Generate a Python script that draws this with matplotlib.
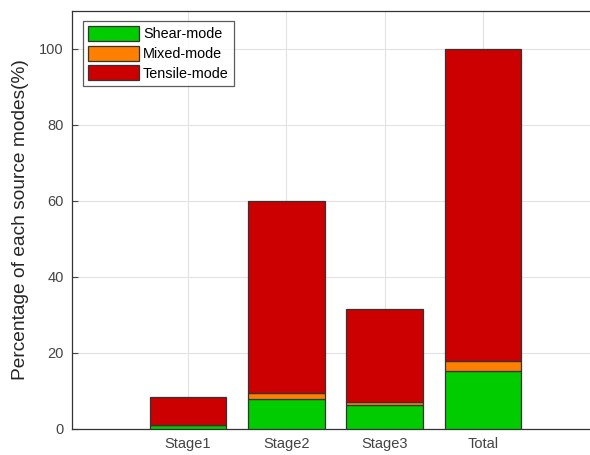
import matplotlib
matplotlib.use("Agg")
import matplotlib.pyplot as plt
import numpy as np

plt.rcParams['font.family'] = ['Liberation Sans', 'DejaVu Sans']

categories = ["Stage1", "Stage2", "Stage3", "Total"]
shear = [1.0, 7.9, 6.2, 15.3]
mixed = [0.1, 1.5, 1.0, 2.6]
tensile = [7.3, 50.6, 24.4, 82.1]
series_names = ["Shear-mode", "Mixed-mode", "Tensile-mode"]
colors = ["#00CC00", "#FF8000", "#CC0000"]

fig = plt.figure(figsize=(5.9, 4.55), dpi=100)
ax = fig.add_axes([72/590, 26/455, (599-72)/590, (429-11)/455])

x = np.arange(1, len(categories) + 1)
bottom = np.zeros(len(categories))
for vals, name, col in zip([shear, mixed, tensile], series_names, colors):
    ax.bar(x, vals, width=0.78, bottom=bottom, color=col, edgecolor="#333333",
           linewidth=0.9, label=name, zorder=3)
    bottom += np.array(vals)

ax.set_xlim(-0.18, 5.18)
ax.set_ylim(0, 110)
ax.set_xticks(x)
ax.set_xticklabels(categories)
ax.set_yticks(np.arange(0, 101, 20))
ax.grid(True, color="#e2e2e2", linewidth=0.8, zorder=0)
ax.tick_params(direction="in", length=4, colors="#444444", labelsize=10.5,
               labelcolor="#444444", pad=6)
for s in ax.spines.values():
    s.set_color("#333333")
    s.set_linewidth(0.9)

ax.set_ylabel("Percentage of each source modes(%)", fontsize=13.8, color="#262626",
              labelpad=7)

leg = ax.legend(loc="upper left", bbox_to_anchor=(0.021, 0.976), fontsize=10.4,
                frameon=True, fancybox=False, handlelength=3.5, handleheight=1.2,
                handletextpad=0.3, borderpad=0.35, labelspacing=0.3,
                borderaxespad=0)
leg.get_frame().set_edgecolor("#333333")
leg.get_frame().set_linewidth(0.9)

fig.savefig("out.png", dpi=100)
